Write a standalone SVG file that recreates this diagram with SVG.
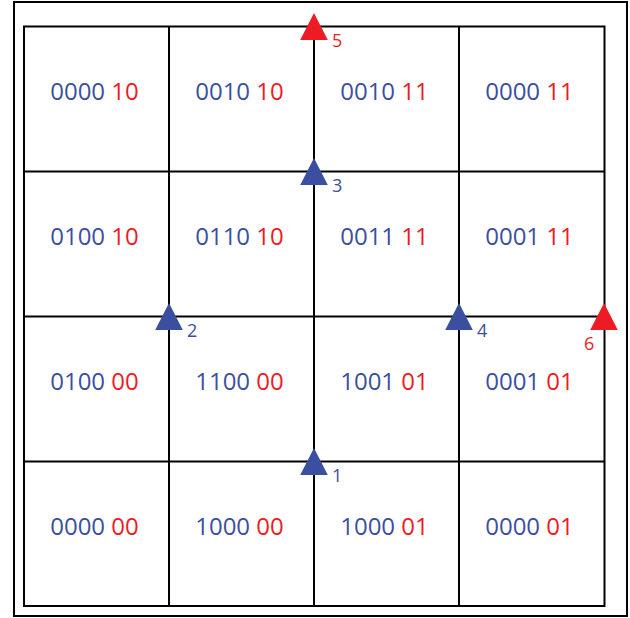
<svg xmlns="http://www.w3.org/2000/svg" width="630" height="618" viewBox="0 0 630 618">
<style>
.c{font-family:"Open Sans","Noto Sans",sans-serif;font-size:24px;text-anchor:middle;fill:#3b4fa0}
.r{fill:#ed1c24}
.l{font-family:"Open Sans","Noto Sans",sans-serif;font-size:18px;fill:#3b4fa0}
.g{stroke:#000;stroke-width:2;fill:none}
.tb{fill:#3b4fa0}
.tr{fill:#ed1c24}
</style>
<defs>
<polygon id="tri" points="0,-13.5 13.8,13.5 -13.8,13.5"/>
</defs>
<rect x="14" y="2" width="613" height="614" fill="#fff" stroke="#000" stroke-width="2"/>
<g id="connectors">
<rect class="g" x="24" y="26.5" width="580.5" height="579.5"/>
<path class="g" d="M169,26.5V606M314,26.5V606M459,26.5V606M24,171.5H604.5M24,316.5H604.5M24,461.5H604.5"/>
</g>
<g id="cells">
<text id="c00" class="c" x="94.5" y="100">0000 <tspan class="r">10</tspan></text>
<text id="c01" class="c" x="239.5" y="100">0010 <tspan class="r">10</tspan></text>
<text id="c02" class="c" x="384.5" y="100">0010 <tspan class="r">11</tspan></text>
<text id="c03" class="c" x="529.5" y="100">0000 <tspan class="r">11</tspan></text>
<text id="c10" class="c" x="94.5" y="245">0100 <tspan class="r">10</tspan></text>
<text id="c11" class="c" x="239.5" y="245">0110 <tspan class="r">10</tspan></text>
<text id="c12" class="c" x="384.5" y="245">0011 <tspan class="r">11</tspan></text>
<text id="c13" class="c" x="529.5" y="245">0001 <tspan class="r">11</tspan></text>
<text id="c20" class="c" x="94.5" y="390">0100 <tspan class="r">00</tspan></text>
<text id="c21" class="c" x="239.5" y="390">1100 <tspan class="r">00</tspan></text>
<text id="c22" class="c" x="384.5" y="390">1001 <tspan class="r">01</tspan></text>
<text id="c23" class="c" x="529.5" y="390">0001 <tspan class="r">01</tspan></text>
<text id="c30" class="c" x="94.5" y="535">0000 <tspan class="r">00</tspan></text>
<text id="c31" class="c" x="239.5" y="535">1000 <tspan class="r">00</tspan></text>
<text id="c32" class="c" x="384.5" y="535">1000 <tspan class="r">01</tspan></text>
<text id="c33" class="c" x="529.5" y="535">0000 <tspan class="r">01</tspan></text>
</g>
<g id="m1"><use href="#tri" class="tb" x="314" y="461.5"/><text class="l" x="332" y="482">1</text></g>
<g id="m2"><use href="#tri" class="tb" x="169" y="316.5"/><text class="l" x="187" y="337">2</text></g>
<g id="m3"><use href="#tri" class="tb" x="314" y="171.5"/><text class="l" x="332" y="192">3</text></g>
<g id="m4"><use href="#tri" class="tb" x="459" y="316.5"/><text class="l" x="477" y="337">4</text></g>
<g id="m5"><use href="#tri" class="tr" x="314" y="26.5"/><text class="l" x="332" y="47" style="fill:#ed1c24">5</text></g>
<g id="m6"><use href="#tri" class="tr" x="604" y="316.5"/><text class="l" x="584" y="350" style="fill:#ed1c24">6</text></g>
</svg>
